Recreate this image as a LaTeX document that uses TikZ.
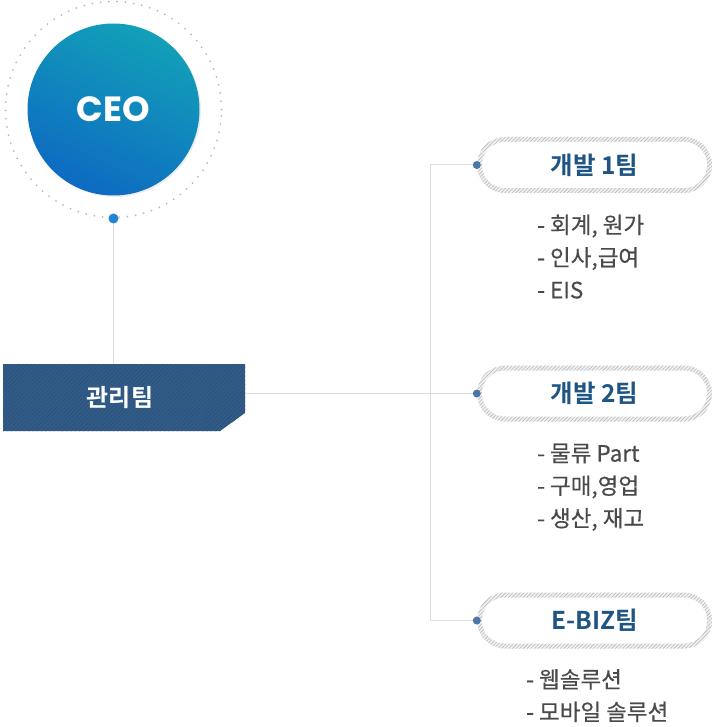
\documentclass[tikz,border=0pt]{standalone}
\usepackage{fontspec}
\usepackage{tikz}
\usetikzlibrary{patterns.meta, shadows}
\newfontfamily\krfont[FakeBold=0.4]{Noto Sans CJK KR}
\newfontfamily\krbold{Noto Sans CJK KR Bold}
\newfontfamily\ceofont{Poppins}
\definecolor{ceoTop}{HTML}{12A0B8}
\definecolor{ceoBottom}{HTML}{0E6AC2}
\definecolor{ceoDot}{HTML}{2383D5}
\definecolor{mgmtBlue}{HTML}{325C88}
\definecolor{teamBlue}{HTML}{1F5584}
\definecolor{dotBlue}{HTML}{4A76A8}
\definecolor{linkGray}{HTML}{DDDDDD}
\definecolor{itemGray}{HTML}{4A4A4A}
\tikzstyle{halo} = [circle, draw=gray!55, line width=2pt, dash pattern=on 0pt off 8.3pt, line cap=round, minimum size=216pt, inner sep=0]
\tikzstyle{ceo} = [circle, minimum size=172pt, inner sep=0, top color=ceoTop, bottom color=ceoBottom, shading angle=-25, drop shadow={shadow xshift=1.5pt, shadow yshift=-1.5pt, opacity=0.15}, text=white, font=\ceofont\bfseries\fontsize{35}{35}\selectfont]
\tikzstyle{mgmtbox} = [fill=mgmtBlue, postaction={pattern={Lines[angle=45, distance=3pt, line width=0.6pt]}, pattern color=mgmtBlue!88!black}]
\tikzstyle{mgmt} = [minimum width=250pt, minimum height=67pt, inner sep=0, text=white, font=\krbold\fontsize{24}{24}\selectfont]
\tikzstyle{ring} = [rounded corners=28pt, minimum width=235pt, minimum height=56pt, inner sep=0, fill=gray!12, postaction={pattern={Lines[angle=45, distance=2.6pt, line width=0.6pt]}, pattern color=gray!55}]
\tikzstyle{team} = [rounded corners=23pt, minimum width=225pt, minimum height=46pt, inner sep=0, fill=white, text=teamBlue, font=\krbold\fontsize{24.5}{24.5}\selectfont]
\tikzstyle{items} = [anchor=north west, align=left, inner sep=0, text=itemGray, font=\krfont\fontsize{22.5}{32.5}\selectfont]
\tikzstyle{link} = [draw=linkGray, line width=1pt]
\tikzstyle{dot} = [circle, fill=dotBlue, minimum size=8pt, inner sep=0]

\begin{document}
\begin{tikzpicture}[x=1pt, y=-1pt]
    \useasboundingbox (0,0) rectangle (714,727);

    % CEO
    \node[halo] (halo) at (113.5,109.5) {};
    \node[ceo] (ceo) at (halo) {CEO};

    % Management team
    \fill[mgmtbox] (3,364) -- (245,364) -- (245,413) -- (220,431) -- (3,431) -- cycle;
    \node[mgmt] (mgmt) at (120,397.5) {관리팀};

    % Development teams
    \node[ring] (t1) at (594.5,165) {};
    \node[team] (t1lbl) at (t1) {개발 1팀};
    \node[ring] (t2) at (594.5,393.5) {};
    \node[team] (t2lbl) at (t2) {개발 2팀};
    \node[ring] (t3) at (594.5,620.5) {};
    \node[team] (t3lbl) at (t3) {E-BIZ팀};

    % Duties of each team
    \node[items] (t1items) at (537,214.5) {- 회계, 원가\\- 인사,급여\\- EIS};
    \node[items] (t2items) at (537,443.5) {- 물류 Part\\- 구매,영업\\- 생산, 재고};
    \node[items] (t3items) at (526,669) {- 웹솔루션\\- 모바일 솔루션};

    % Connectors
    \coordinate (trunk) at (430,0);
    \node[circle, fill=ceoDot, minimum size=10pt, inner sep=0] (ceodot) at (halo.south) {};
    \draw[link] (ceodot) -- (ceodot |- mgmt.north);
    \draw[link] (t2.west) -- (t2.west -| mgmt.east);
    \draw[link] (t1.west) -- (t1.west -| trunk) -- (t3.west -| trunk) -- (t3.west);
    \node[dot] (t1dot) at (t1.west) {};
    \node[dot] (t2dot) at (t2.west) {};
    \node[dot] (t3dot) at (t3.west) {};
\end{tikzpicture}
\end{document}
